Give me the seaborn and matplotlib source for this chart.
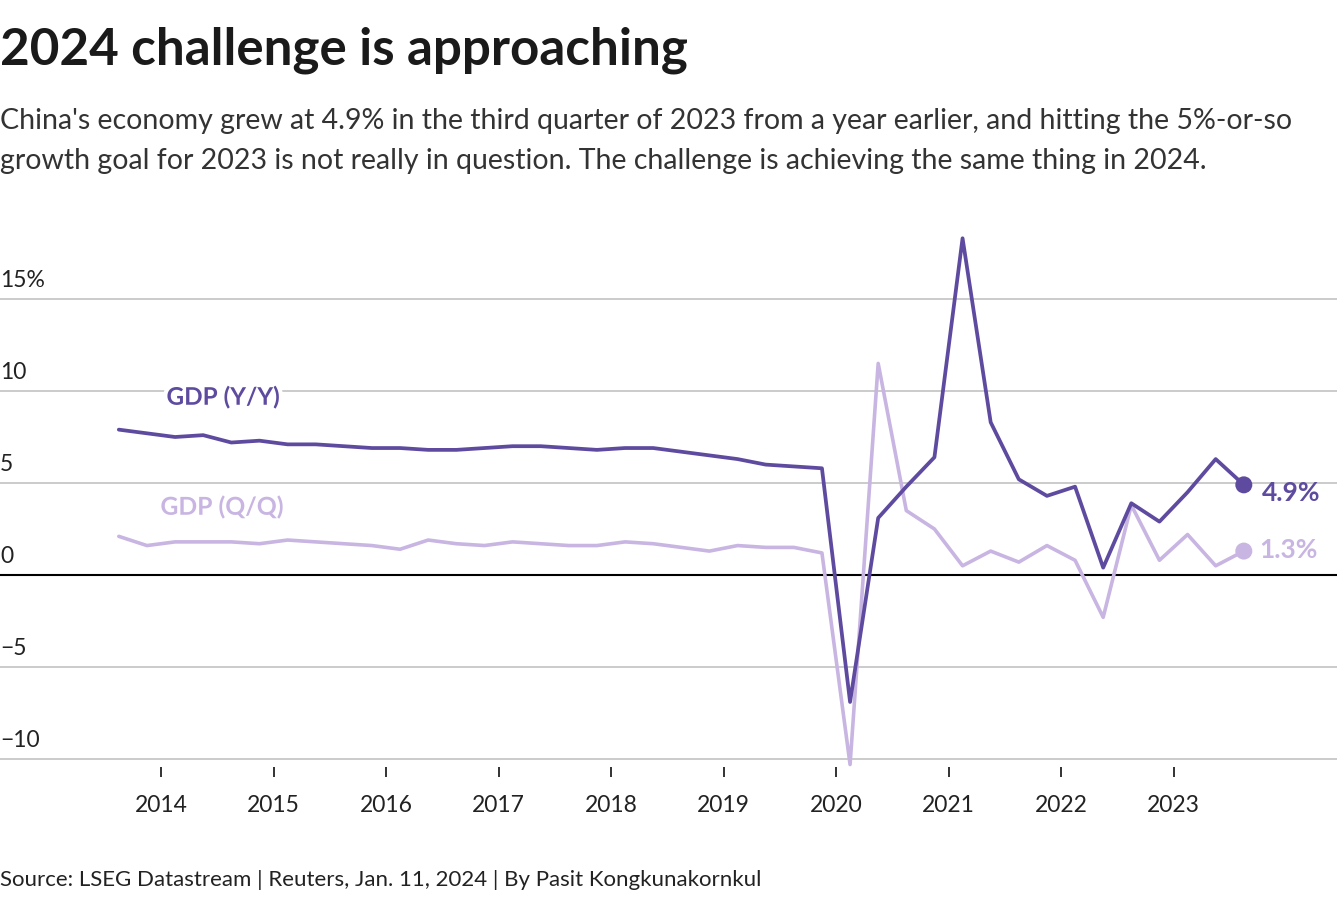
import numpy as np
import pandas as pd
import matplotlib
matplotlib.use("Agg")
import matplotlib.pyplot as plt
import matplotlib.patheffects as pe
import matplotlib.transforms as mtransforms
import seaborn as sns

# ---- data ----
quarters = [f"{y}Q{q}" for y in range(2013, 2024) for q in range(1, 5)][2:-1]  # 2013Q3..2023Q3
gdp_yy = [7.9, 7.7, 7.5, 7.6, 7.2, 7.3, 7.1, 7.1, 7.0, 6.9,
          6.9, 6.8, 6.8, 6.9, 7.0, 7.0, 6.9, 6.8, 6.9, 6.9,
          6.7, 6.5, 6.3, 6.0, 5.9, 5.8, -6.9, 3.1, 4.8, 6.4,
          18.3, 8.3, 5.2, 4.3, 4.8, 0.4, 3.9, 2.9, 4.5, 6.3, 4.9]
gdp_qq = [2.1, 1.6, 1.8, 1.8, 1.8, 1.7, 1.9, 1.8, 1.7, 1.6,
          1.4, 1.9, 1.7, 1.6, 1.8, 1.7, 1.6, 1.6, 1.8, 1.7,
          1.5, 1.3, 1.6, 1.5, 1.5, 1.2, -10.3, 11.5, 3.5, 2.5,
          0.5, 1.3, 0.7, 1.6, 0.8, -2.3, 3.8, 0.8, 2.2, 0.5, 1.3]
year_ticks = list(range(2014, 2024))
y_grid = [-10, -5, 5, 10, 15]
y_labels = ["\u221210", "\u22125", "5", "10", "15%"]

# position of each quarter (mid-quarter, in fractional years)
xpos = [int(q[:4]) + (int(q[-1]) - 1) * 0.25 + 0.125 for q in quarters]
df = pd.DataFrame({"x": xpos, "yy": gdp_yy, "qq": gdp_qq})

DARK = "#5e4ba0"
LIGHT = "#c8b5e2"
TEXT = "#222222"

sns.set_theme(style="white")
plt.rcParams["font.family"] = ["Lato", "DejaVu Sans"]

W, H = 1340, 900
fig = plt.figure(figsize=(W / 100, H / 100), dpi=100)
ax_bottom_px, ax_top_px = 767, 216.2
ax = fig.add_axes([0, (H - ax_bottom_px) / H, 1337 / W, (ax_bottom_px - ax_top_px) / H])

sns.lineplot(data=df, x="x", y="qq", ax=ax, color=LIGHT, lw=2.6, zorder=3)
sns.lineplot(data=df, x="x", y="yy", ax=ax, color=DARK, lw=2.7, zorder=4)

x0 = 2014 - 161 / 112.5
x1 = 2014 + (1337 - 161) / 112.5
ax.set_xlim(x0, x1)
ax.set_ylim((575 - ax_bottom_px) / 18.4, (575 - ax_top_px) / 18.4)

for s in ax.spines.values():
    s.set_visible(False)
ax.set_xlabel("")
ax.set_ylabel("")
ax.set_yticks([])
ax.set_xticks(year_ticks)
ax.set_xticklabels([str(y) for y in year_ticks], fontsize=16.5, color=TEXT)
ax.tick_params(axis="x", length=7, width=1.3, color="#222222", pad=13, direction="out", bottom=True)

blend = mtransforms.blended_transform_factory(ax.transAxes, ax.transData)
for v, lab in zip(y_grid, y_labels):
    ax.axhline(v, color="#bdbdbd", lw=1.1, zorder=1)
    ax.annotate(lab, xy=(0, v), xycoords=blend, xytext=(0, 6), textcoords="offset points",
                ha="left", va="bottom", fontsize=16.5, color=TEXT)
ax.axhline(0, color="black", lw=1.5, zorder=2)
ax.annotate("0", xy=(0, 0), xycoords=blend, xytext=(0, 6), textcoords="offset points",
            ha="left", va="bottom", fontsize=16.5, color=TEXT)

halo = [pe.withStroke(linewidth=6, foreground="white")]
ax.text(2014 + (223 - 161) / 112.5, (575 - 397) / 18.4, "GDP (Y/Y)", color=DARK, fontsize=17.5,
        fontweight="bold", ha="center", va="center", path_effects=halo, zorder=5)
ax.text(2014 + (222 - 161) / 112.5, (575 - 507) / 18.4, "GDP (Q/Q)", color=LIGHT, fontsize=17.8,
        fontweight="bold", ha="center", va="center", path_effects=halo, zorder=5)

# end points
ax.scatter([xpos[-1]], [gdp_yy[-1]], s=150, color=DARK, zorder=6, edgecolor="none")
ax.scatter([xpos[-1]], [gdp_qq[-1]], s=150, color=LIGHT, zorder=6, edgecolor="none")
ax.annotate(f"{gdp_yy[-1]}%", xy=(xpos[-1], gdp_yy[-1]), xytext=(13, -6), textcoords="offset points",
            ha="left", va="center", fontsize=19, fontweight="bold", color=DARK, zorder=6)
ax.annotate(f"{gdp_qq[-1]}%", xy=(xpos[-1], gdp_qq[-1]), xytext=(11, 1), textcoords="offset points",
            ha="left", va="center", fontsize=19, fontweight="bold", color=LIGHT, zorder=6)

fig.text(0, 1 - 50 / H, "2024 challenge is approaching", fontsize=36.8, fontweight="bold",
         color="#1a1a1a", ha="left", va="center")
fig.text(0, 1 - 141 / H,
         "China's economy grew at 4.9% in the third quarter of 2023 from a year earlier, and hitting the 5%-or-so\n"
         "growth goal for 2023 is not really in question. The challenge is achieving the same thing in 2024.",
         fontsize=20.5, fontweight="normal", color="#333333", ha="left", va="center", linespacing=1.62)
fig.text(0, 1 - 880 / H, "Source: LSEG Datastream | Reuters, Jan. 11, 2024 | By Pasit Kongkunakornkul",
         fontsize=16, color="#222222", ha="left", va="center")

fig.savefig("out.png", dpi=100, facecolor="white")
